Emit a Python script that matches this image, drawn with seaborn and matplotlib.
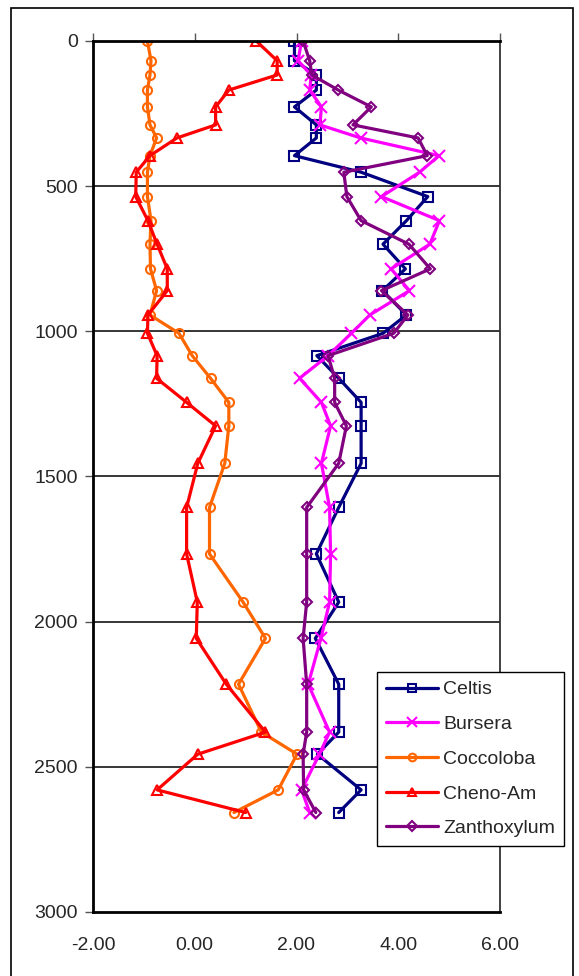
import matplotlib
matplotlib.use("Agg")
import matplotlib.pyplot as plt
import seaborn as sns
import pandas as pd
from matplotlib.patches import Rectangle

# Sample depths (shared by all taxa)
depths = [0, 68, 117, 169, 227, 289, 334, 395, 452, 536, 619, 700, 785, 860,
          944, 1007, 1084, 1162, 1245, 1326, 1455, 1607, 1767, 1933, 2058,
          2216, 2381, 2457, 2580, 2658]

celtis = [1.96, 1.96, 2.39, 2.39, 1.96, 2.39, 2.39, 1.96, 3.27, 4.58, 4.16,
          3.70, 4.14, 3.69, 4.16, 3.70, 2.40, 2.83, 3.27, 3.27, 3.27, 2.83,
          2.39, 2.83, 2.37, 2.83, 2.83, 2.41, 3.27, 2.83]

bursera = [2.10, 2.03, 2.29, 2.26, 2.49, 2.46, 3.26, 4.80, 4.42, 3.67, 4.81,
           4.62, 3.86, 4.22, 3.44, 3.08, 2.62, 2.06, 2.49, 2.67, 2.49, 2.65,
           2.67, 2.65, 2.48, 2.23, 2.65, 2.45, 2.10, 2.26]

coccoloba = [-0.93, -0.86, -0.88, -0.93, -0.93, -0.88, -0.75, -0.88, -0.93,
             -0.93, -0.86, -0.88, -0.87, -0.75, -0.88, -0.31, -0.05, 0.31,
             0.67, 0.67, 0.59, 0.29, 0.29, 0.95, 1.39, 0.86, 1.31, 2.01,
             1.64, 0.77]

cheno_am = [1.21, 1.62, 1.62, 0.67, 0.41, 0.41, -0.35, -0.88, -1.15, -1.16,
            -0.92, -0.74, -0.54, -0.54, -0.92, -0.93, -0.74, -0.75, -0.16,
            0.41, 0.06, -0.16, -0.16, 0.05, 0.03, 0.62, 1.39, 0.06, -0.74,
            1.00]

zanthoxylum = [2.13, 2.26, 2.30, 2.82, 3.47, 3.11, 4.39, 4.57, 2.93, 2.99,
               3.27, 4.21, 4.63, 3.67, 4.19, 3.91, 2.62, 2.75, 2.75, 2.98,
               2.83, 2.20, 2.20, 2.20, 2.13, 2.20, 2.20, 2.13, 2.14, 2.38]

taxa = ["Celtis", "Bursera", "Coccoloba", "Cheno-Am", "Zanthoxylum"]
series = [celtis, bursera, coccoloba, cheno_am, zanthoxylum]
colors = ["#000080", "#FF00FF", "#FF6600", "#FF0000", "#800080"]
markers = ["s", "x", "o", "^", "D"]
msizes = [6.5, 9, 6.5, 7.5, 5.5]

x_ticks = [-2, 0, 2, 4, 6]
y_ticks = [0, 500, 1000, 1500, 2000, 2500, 3000]

df = pd.concat(
    [pd.DataFrame({"taxon": t, "depth": depths, "value": v})
     for t, v in zip(taxa, series)],
    ignore_index=True,
)

sns.set_style("white")
plt.rcParams["font.family"] = ["Liberation Sans", "DejaVu Sans"]

fig = plt.figure(figsize=(5.79, 9.76), dpi=100)
ax = fig.add_axes([93 / 579, 1 - 911.8 / 976, 407 / 579, 870.8 / 976])

for t, c, m, ms in zip(taxa, colors, markers, msizes):
    sub = df[df["taxon"] == t]
    sns.lineplot(data=sub, x="value", y="depth", sort=False, estimator=None,
                 color=c, marker=m, markersize=ms, markerfacecolor="none",
                 markeredgecolor=c, markeredgewidth=1.5, linewidth=2.3,
                 label=t, ax=ax)

ax.set_xlim(-2, 6)
ax.set_ylim(3000, 0)
ax.set_xticks(x_ticks)
ax.set_xticklabels([f"{v:.2f}" for v in x_ticks])
ax.set_yticks(y_ticks)
ax.set_yticklabels([str(v) for v in y_ticks])
ax.set_xlabel("")
ax.set_ylabel("")

# Horizontal gridlines at the major depth ticks
for yv in y_ticks[1:-1]:
    ax.axhline(yv, color="black", linewidth=1.1, zorder=0.5)

ax.tick_params(axis="y", which="both", left=True, direction="out", length=6,
               width=1, color="#555555", pad=5, labelsize=14)
ax.tick_params(axis="x", which="both", top=True, bottom=False,
               labeltop=False, labelbottom=True, direction="out", length=6,
               width=1, color="#555555", pad=12, labelsize=14)

for side in ["left", "top", "bottom"]:
    ax.spines[side].set_visible(True)
    ax.spines[side].set_color("black")
    ax.spines[side].set_linewidth(2)
ax.spines["right"].set_visible(True)
ax.spines["right"].set_color("#333333")
ax.spines["right"].set_linewidth(1.3)

leg = ax.legend(loc="upper left", bbox_to_anchor=(377 / 579, 1 - 672 / 976),
                bbox_transform=fig.transFigure, frameon=True, fancybox=False,
                shadow=False, fontsize=14, handlelength=2.7,
                handletextpad=0.25, labelspacing=0.88, borderpad=0.45,
                borderaxespad=0, markerscale=0.85)
leg.get_frame().set_edgecolor("black")
leg.get_frame().set_linewidth(1.0)
leg.get_frame().set_alpha(1)

# Outer chart-area border
fig.patches.append(Rectangle((11 / 579, -0.01), (573 - 11) / 579,
                             1.01 - 8 / 976, transform=fig.transFigure,
                             fill=False, edgecolor="black", linewidth=1.2))

fig.savefig("out.png", dpi=100)
